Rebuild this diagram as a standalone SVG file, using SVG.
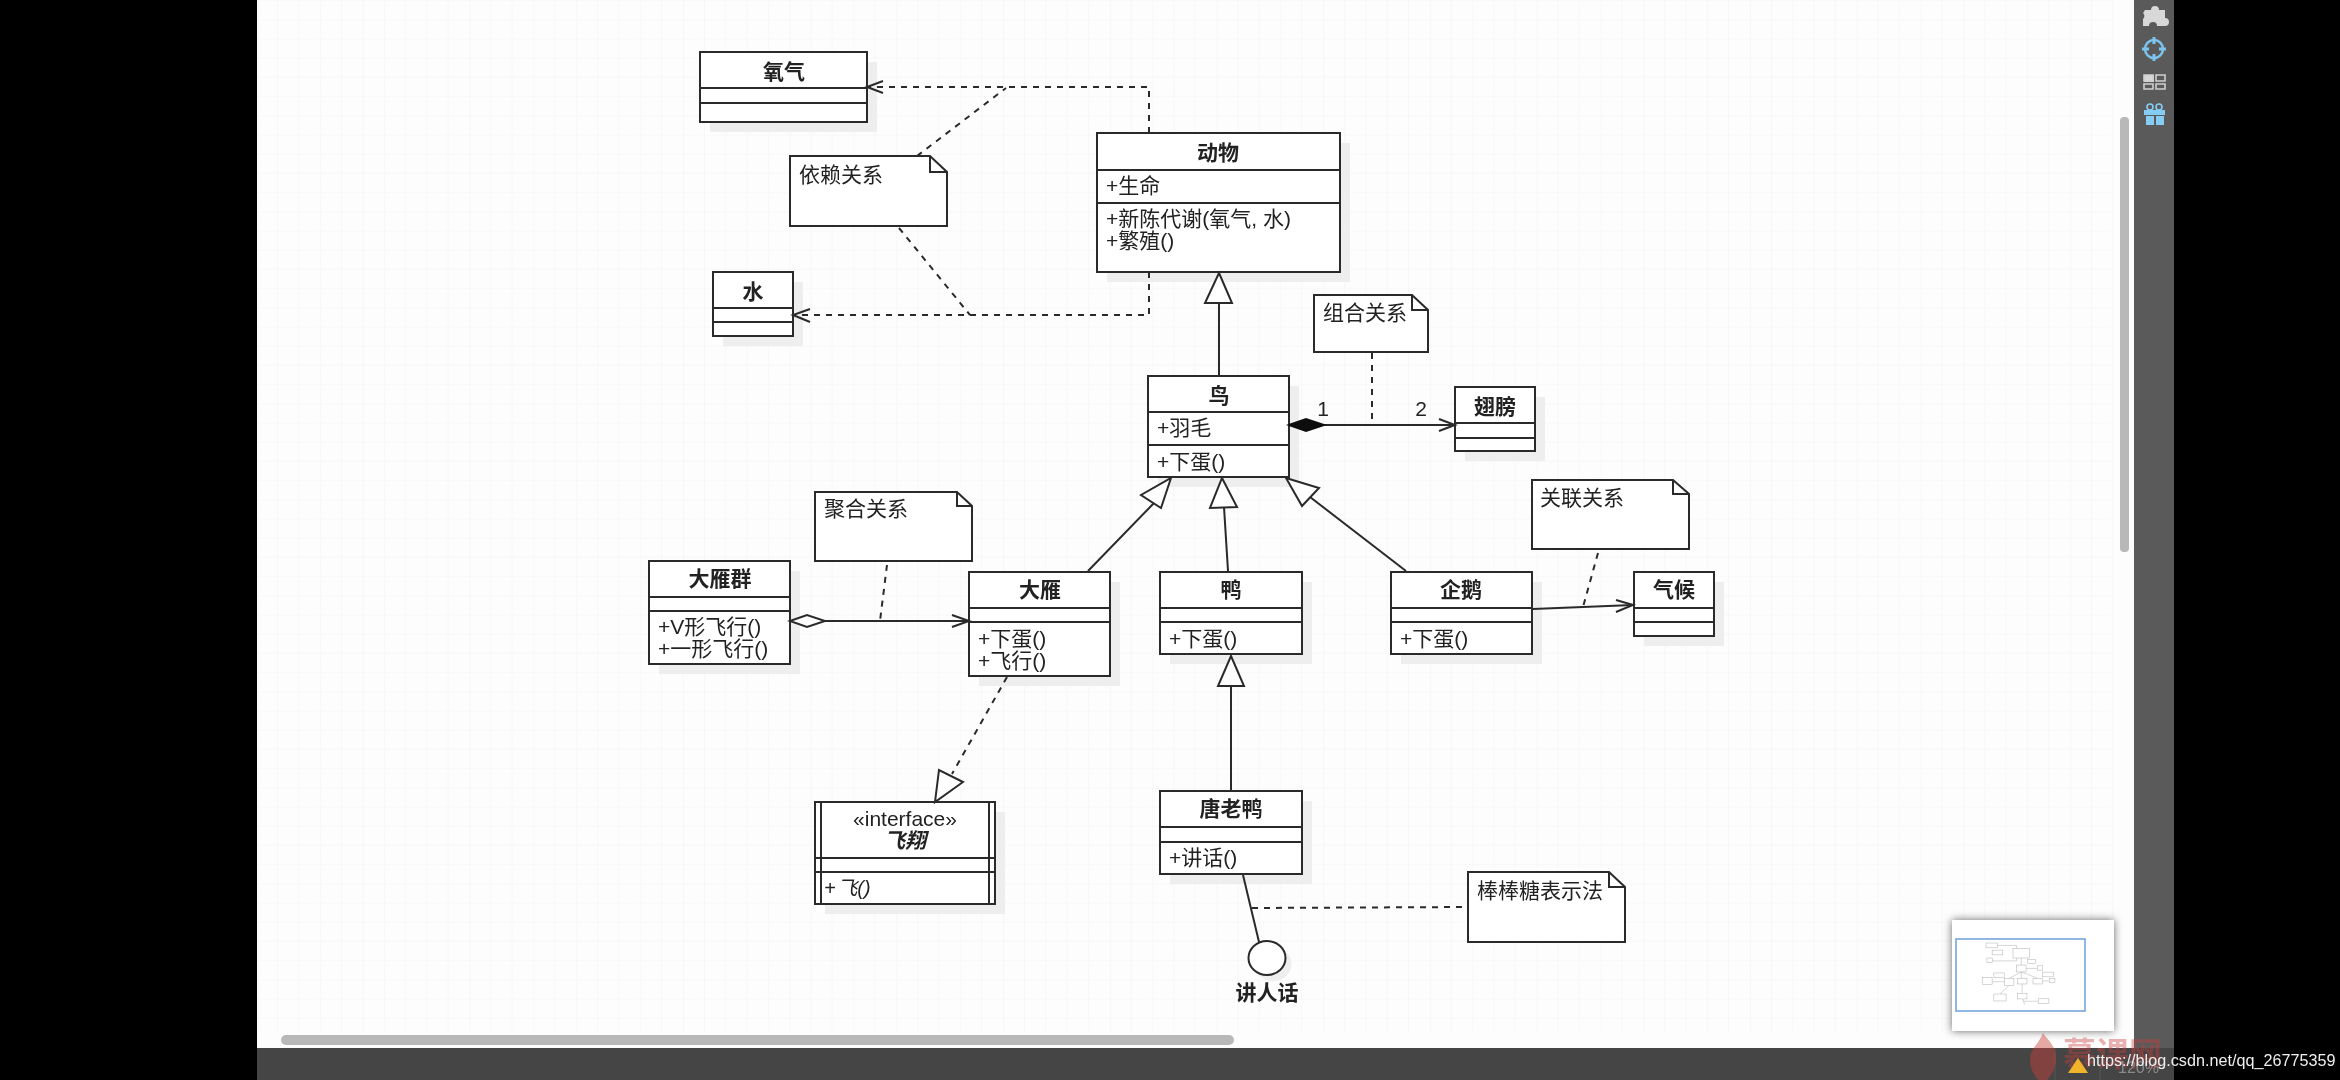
<svg xmlns="http://www.w3.org/2000/svg" width="2340" height="1080" viewBox="0 0 2340 1080">
<style>
text{font-family:"Liberation Sans","Noto Sans CJK SC",sans-serif;font-size:21px;fill:#222}
.t{font-weight:bold;text-anchor:middle}
.c{text-anchor:middle}
.b{fill:#fff;stroke:#2a2a2a;stroke-width:2}
.l{fill:none;stroke:#2a2a2a;stroke-width:2}
.d{fill:none;stroke:#2a2a2a;stroke-width:2;stroke-dasharray:6 6}
.o{fill:#fff;stroke:#2a2a2a;stroke-width:2}
.s{fill:#eeeeee;stroke:none}
.m{fill:#fff;stroke:#aaa;stroke-width:7}
.ml{fill:none;stroke:#aaa;stroke-width:7}
</style>
<defs>
<pattern id="grid" patternUnits="userSpaceOnUse" x="1643.3" y="787.7" width="106.7" height="96">
<path d="M21.34 0V96M42.68 0V96M64.02 0V96M85.36 0V96M0 19.2H106.7M0 38.4H106.7M0 57.6H106.7M0 76.8H106.7" fill="none" stroke="#f7f7f7" stroke-width="1"/>
<path d="M0 0V96M0 0H106.7" fill="none" stroke="#f1f1f1" stroke-width="1"/>
</pattern>
<filter id="soft" x="-2%" y="-2%" width="104%" height="104%"><feGaussianBlur stdDeviation="0.5"/></filter>
<filter id="shade" x="-10%" y="-10%" width="120%" height="120%"><feGaussianBlur stdDeviation="4"/></filter>
</defs>
<rect width="2340" height="1080" fill="#000"/>
<g id="diagram" filter="url(#soft)">
<g id="canvas">
<rect x="257" y="0" width="1877" height="1048" fill="#fdfdfd"/>
<rect x="257" y="0" width="1857" height="1031" fill="url(#grid)"/>
<rect x="2120" y="117" width="9" height="435" rx="4" fill="#b8b8b8"/>
<rect x="281" y="1035" width="953" height="10" rx="5" fill="#b8b8b8"/>
<rect x="2134" y="0" width="40" height="1048" fill="#5a5a5a"/>
<rect x="257" y="1048" width="1917" height="32" fill="#454545"/>
<path d="M2055 1048V1080M2100 1048V1080" stroke="#565656" stroke-width="1"/>
</g>
<g id="toolbar">
<path d="M2145 10h6a4 4 0 0 1 8 0h6v8a4 4 0 0 1 0 8h-8a4 4 0 0 0-8 0h-6v-7a4 4 0 0 0 0-6z" fill="#d8d8d8"/>
<circle cx="2154" cy="49" r="9" fill="none" stroke="#7cc4ee" stroke-width="2.5"/>
<path d="M2142 49h7M2159 49h7M2154 37v7M2154 54v7" stroke="#7cc4ee" stroke-width="3"/>
<rect x="2144" y="75" width="10" height="7" fill="#d8d8d8"/>
<path d="M2144 75h9v6h-9zM2156 75h9v6h-9zM2144 84h9v5h-9zM2156 84h9v5h-9z" fill="none" stroke="#cfcfcf" stroke-width="1.6"/>
<rect x="2144" y="110" width="21" height="5" fill="#85cdf5"/>
<rect x="2146" y="116" width="8" height="9" fill="#85cdf5"/>
<rect x="2156" y="116" width="8" height="9" fill="#85cdf5"/>
<circle cx="2150" cy="107" r="3" fill="none" stroke="#85cdf5" stroke-width="1.6"/>
<circle cx="2159" cy="107" r="3" fill="none" stroke="#85cdf5" stroke-width="1.6"/>
</g>
<g id="n-oxygen">
<rect class="s" x="710" y="62" width="167" height="70"/>
<rect class="b" x="700" y="52" width="167" height="70"/>
<path class="l" d="M700 88H867M700 103H867"/>
<text class="t" x="784" y="79">氧气</text>
</g>
<g id="n-water">
<rect class="s" x="723" y="282" width="80" height="64"/>
<rect class="b" x="713" y="272" width="80" height="64"/>
<path class="l" d="M713 308H793M713 322H793"/>
<text class="t" x="753" y="299">水</text>
</g>
<g id="n-animal">
<rect class="s" x="1107" y="143" width="243" height="139"/>
<rect class="b" x="1097" y="133" width="243" height="139"/>
<path class="l" d="M1097 170H1340M1097 203H1340"/>
<text class="t" x="1218" y="160">动物</text>
<text x="1106" y="193">+生命</text>
<text x="1106" y="226">+新陈代谢(氧气, 水)</text>
<text x="1106" y="248">+繁殖()</text>
</g>
<g id="n-bird">
<rect class="s" x="1158" y="386" width="141" height="101"/>
<rect class="b" x="1148" y="376" width="141" height="101"/>
<path class="l" d="M1148 412H1289M1148 445H1289"/>
<text class="t" x="1219" y="403">鸟</text>
<text x="1157" y="435">+羽毛</text>
<text x="1157" y="469">+下蛋()</text>
</g>
<g id="n-wing">
<rect class="s" x="1465" y="397" width="80" height="64"/>
<rect class="b" x="1455" y="387" width="80" height="64"/>
<path class="l" d="M1455 423H1535M1455 438H1535"/>
<text class="t" x="1495" y="414">翅膀</text>
</g>
<g id="n-flock">
<rect class="s" x="659" y="571" width="141" height="103"/>
<rect class="b" x="649" y="561" width="141" height="103"/>
<path class="l" d="M649 597H790M649 611H790"/>
<text class="t" x="720" y="586">大雁群</text>
<text x="658" y="634">+V形飞行()</text>
<text x="658" y="656">+一形飞行()</text>
</g>
<g id="n-goose">
<rect class="s" x="979" y="582" width="141" height="104"/>
<rect class="b" x="969" y="572" width="141" height="104"/>
<path class="l" d="M969 608H1110M969 622H1110"/>
<text class="t" x="1040" y="597">大雁</text>
<text x="978" y="646">+下蛋()</text>
<text x="978" y="668">+飞行()</text>
</g>
<g id="n-duck">
<rect class="s" x="1170" y="582" width="142" height="82"/>
<rect class="b" x="1160" y="572" width="142" height="82"/>
<path class="l" d="M1160 608H1302M1160 622H1302"/>
<text class="t" x="1231" y="597">鸭</text>
<text x="1169" y="646">+下蛋()</text>
</g>
<g id="n-penguin">
<rect class="s" x="1401" y="582" width="141" height="82"/>
<rect class="b" x="1391" y="572" width="141" height="82"/>
<path class="l" d="M1391 608H1532M1391 622H1532"/>
<text class="t" x="1461" y="597">企鹅</text>
<text x="1400" y="646">+下蛋()</text>
</g>
<g id="n-climate">
<rect class="s" x="1644" y="582" width="80" height="64"/>
<rect class="b" x="1634" y="572" width="80" height="64"/>
<path class="l" d="M1634 608H1714M1634 622H1714"/>
<text class="t" x="1674" y="597">气候</text>
</g>
<g id="n-fly">
<rect class="s" x="825" y="812" width="180" height="102"/>
<rect class="b" x="815" y="802" width="180" height="102"/>
<path class="l" d="M821 802V904M989 802V904M815 858H995M815 872H995"/>
<text class="c" x="905" y="826">«interface»</text>
<text class="t" x="905" y="848" font-style="italic">飞翔</text>
<text x="824" y="895" font-style="italic" style="font-size:20px" word-spacing="-4">+ 飞()</text>
</g>
<g id="n-donald">
<rect class="s" x="1170" y="801" width="142" height="83"/>
<rect class="b" x="1160" y="791" width="142" height="83"/>
<path class="l" d="M1160 827H1302M1160 842H1302"/>
<text class="t" x="1231" y="816">唐老鸭</text>
<text x="1169" y="865">+讲话()</text>
</g>
<g id="n-lollipop">
<ellipse class="s" cx="1273" cy="964" rx="18.5" ry="17"/>
<ellipse class="b" cx="1267" cy="958" rx="18.5" ry="17"/>
<text class="t" x="1267" y="1000">讲人话</text>
</g>
<g id="note-dep">
<path class="b" d="M790 156H930L947 172V226H790Z"/>
<path class="l" d="M930 156V172H947"/>
<text x="799" y="182">依赖关系</text>
</g>
<g id="note-comp">
<path class="b" d="M1314 295H1412L1428 310V352H1314Z"/>
<path class="l" d="M1412 295V310H1428"/>
<text x="1323" y="320">组合关系</text>
</g>
<g id="note-assoc">
<path class="b" d="M1532 480H1673L1689 494V549H1532Z"/>
<path class="l" d="M1673 480V494H1689"/>
<text x="1540" y="505">关联关系</text>
</g>
<g id="note-agg">
<path class="b" d="M815 492H957L972 506V561H815Z"/>
<path class="l" d="M957 492V506H972"/>
<text x="824" y="516">聚合关系</text>
</g>
<g id="note-lolli">
<path class="b" d="M1468 872H1609L1625 887V942H1468Z"/>
<path class="l" d="M1609 872V887H1625"/>
<text x="1477" y="898">棒棒糖表示法</text>
</g>
<g id="connectors">
<path class="d" d="M1149 133V87H867"/>
<path class="l" d="M883 81L867 87L883 93"/>
<path class="d" d="M917 156L1006 88"/>
<path class="d" d="M1149 272V315H793"/>
<path class="l" d="M810 309L793 315L810 322"/>
<path class="d" d="M899 228L970 315"/>
<path class="l" d="M1219 303V376"/>
<path class="o" d="M1219 273L1232 303H1205Z"/>
<path class="l" d="M1324 425H1455"/>
<path class="l" d="M1439 419L1455 425L1439 431"/>
<path d="M1289 425L1306 419L1324 425L1306 431Z" fill="#111" stroke="#111" stroke-width="2"/>
<path class="d" d="M1372 353V425"/>
<path class="l" d="M1088 571L1154 503"/>
<path class="o" d="M1171 478L1161 508L1141 495Z"/>
<path class="l" d="M1228 571L1224 507"/>
<path class="o" d="M1222 478L1237 507L1210 508Z"/>
<path class="l" d="M1406 571L1310 497"/>
<path class="o" d="M1286 478L1319 488L1302 506Z"/>
<path class="l" d="M1533 609L1633 605"/>
<path class="l" d="M1616 600L1633 605L1616 612"/>
<path class="d" d="M1598 553L1583 607"/>
<path class="l" d="M825 621H969"/>
<path class="l" d="M952 615L969 621L952 627"/>
<path class="o" d="M790 621L807 615L825 621L807 627Z"/>
<path class="d" d="M887 565L880 621"/>
<path class="d" d="M1007 677L952 774"/>
<path class="o" d="M935 802L939 770L963 782Z"/>
<path class="l" d="M1231 686V791"/>
<path class="o" d="M1231 656L1244 686H1218Z"/>
<path class="l" d="M1243 875L1259 942"/>
<path class="d" d="M1252 908L1467 907"/>
</g>
<g id="label-1"><text class="c" x="1323" y="416">1</text></g>
<g id="label-2"><text class="c" x="1421" y="416">2</text></g>
<g id="minimap">
<rect x="1952" y="920" width="162" height="111" fill="#666" filter="url(#shade)"/>
<rect x="1952" y="920" width="162" height="111" fill="#fff"/>
<rect x="1956" y="939" width="129" height="72" fill="none" stroke="#6d9fdc" stroke-width="1.5"/>
<g transform="translate(1938.4 939.5) scale(.068)">
<path class="ml" d="M867 87H1149V133M793 315H1149V272M1219 272V572M1219 477L1040 572M1219 477L1461 572M1289 425H1455M790 621H969M1532 609H1634M1231 654V791M1040 676L905 802M1243 874L1267 958M1252 908H1468"/>
<rect class="m" x="700" y="52" width="167" height="70"/><rect class="m" x="713" y="272" width="80" height="64"/>
<rect class="m" x="1097" y="133" width="243" height="139"/><rect class="m" x="1148" y="376" width="141" height="101"/>
<rect class="m" x="1455" y="387" width="80" height="64"/><rect class="m" x="649" y="561" width="141" height="103"/>
<rect class="m" x="969" y="572" width="141" height="104"/><rect class="m" x="1160" y="572" width="142" height="82"/>
<rect class="m" x="1391" y="572" width="141" height="82"/><rect class="m" x="1634" y="572" width="80" height="64"/>
<rect class="m" x="815" y="802" width="180" height="102"/><rect class="m" x="1160" y="791" width="142" height="83"/>
<rect class="m" x="790" y="156" width="157" height="70"/><rect class="m" x="1314" y="295" width="114" height="57"/>
<rect class="m" x="1532" y="480" width="157" height="69"/><rect class="m" x="815" y="492" width="157" height="69"/>
<rect class="m" x="1468" y="872" width="157" height="70"/>
</g>
</g>
<g id="statusbar">
<path d="M2043 1033c6 8 13 14 13 25c0 12-6 20-13 26c-8-6-13-14-13-25c0-10 9-15 13-26z" fill="#c9403a" opacity=".45"/>
<text x="2063" y="1066" font-weight="bold" style="font-size:33px;fill:#c9403a;opacity:.4">慕课网</text>
<path d="M2078 1058L2088 1073H2068Z" fill="#f0b429"/>
<text x="2118" y="1073" style="fill:#8a8a8a;font-size:16px">120%</text>
<text x="2087" y="1066" style="fill:#eeeeee;font-size:16.2px">https://blog.csdn.net/qq_26775359</text>
</g>
</g>
</svg>
